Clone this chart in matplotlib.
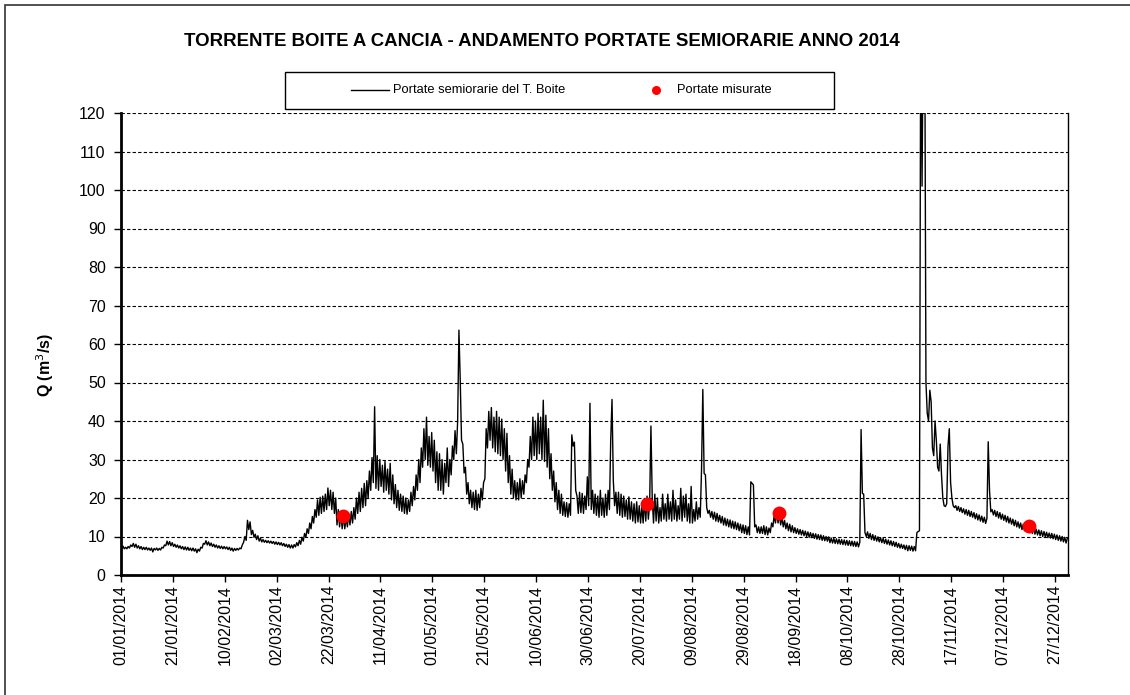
import pandas as pd
import matplotlib
matplotlib.use("Agg")
import matplotlib.pyplot as plt
from matplotlib.patches import Rectangle
from matplotlib.lines import Line2D

plt.rcParams['font.family'] = ['Liberation Sans', 'DejaVu Sans']

title = "TORRENTE BOITE A CANCIA - ANDAMENTO PORTATE SEMIORARIE ANNO 2014"
series_label = "Portate semiorarie del T. Boite"
measured_label = "Portate misurate"
y_label = "Q (m$^3$/s)"

# Discharge of the Boite (m3/s), two readings per day: 06:00 and 18:00
q_morning = [
    # January
    6.5, 6.8, 6.8, 7.0, 7.4, 7.2, 7.0, 6.8, 6.6, 6.6, 6.5, 6.4, 6.0, 6.5, 6.4, 6.5,
    7.0, 7.6, 7.8, 7.6, 7.4, 7.2, 7.0, 6.8, 6.6, 6.5, 6.4, 6.3, 6.2, 5.8, 6.2,
    # February
    7.0, 8.0, 7.8, 7.6, 7.4, 7.2, 7.0, 6.9, 6.8, 6.8, 6.6, 6.4, 6.2, 6.4, 6.5, 6.8,
    8.5, 9.0, 11.8, 10.5, 9.8, 9.2, 8.8, 8.6, 8.5, 8.4, 8.3, 8.2,
    # March
    8.0, 7.9, 7.8, 7.6, 7.4, 7.2, 7.0, 7.0, 7.3, 7.6, 8.0, 8.8, 9.8, 10.8, 12.0, 13.5,
    15.0, 15.5, 16.0, 16.5, 17.0, 18.0, 17.0, 16.0, 13.0, 12.5, 12.0, 12.0, 12.5, 13.0, 13.5,
    # April
    14.5, 16.0, 16.5, 17.5, 18.0, 20.0, 22.0, 24.0, 22.5, 22.0, 23.0, 21.5, 22.0, 21.0, 19.5,
    18.5, 17.5, 16.8, 16.5, 16.0, 15.8, 16.5, 18.0, 19.5, 22.0, 24.0, 28.0, 30.0, 28.5, 28.0,
    # May
    27.0, 24.0, 22.0, 22.0, 21.0, 24.0, 23.0, 26.0, 30.0, 31.5, 63.6, 35.0, 26.5, 21.0, 18.5,
    17.5, 17.0, 16.8, 17.5, 19.5, 25.0, 33.0, 35.0, 33.0, 32.0, 31.5, 31.0, 30.0, 27.0, 24.0, 21.0,
    # June
    20.0, 19.5, 19.5, 20.0, 21.0, 24.0, 28.0, 30.0, 31.0, 30.0, 31.5, 30.0, 29.5, 28.0, 25.0,
    22.0, 19.0, 17.0, 16.0, 15.5, 15.2, 15.0, 15.5, 33.5, 22.0, 16.0, 16.2, 16.0, 17.0, 18.0,
    # July
    17.0, 16.0, 15.5, 15.0, 15.5, 15.0, 15.5, 17.0, 45.6, 18.0, 16.0, 15.5, 15.0, 15.2, 14.5,
    14.5, 14.0, 13.5, 13.8, 13.5, 13.5, 14.0, 14.5, 38.7, 13.5, 14.0, 13.5, 14.0, 14.5, 14.0, 14.5,
    # August
    14.0, 14.5, 14.0, 14.5, 14.0, 15.0, 14.0, 13.5, 13.5, 14.0, 14.5, 15.0, 48.2, 26.0, 16.0,
    15.0, 14.5, 14.0, 13.8, 13.5, 13.0, 12.8, 12.5, 12.2, 12.0, 11.8, 11.5, 11.0, 10.8, 10.5, 10.4,
    # September
    23.8, 12.5, 11.0, 10.8, 10.8, 10.5, 10.4, 11.0, 12.5, 13.5, 13.5, 13.0, 12.5, 12.0, 11.5,
    11.2, 11.0, 10.8, 10.6, 10.4, 10.2, 10.0, 9.8, 9.7, 9.5, 9.3, 9.2, 9.0, 8.9, 8.8,
    # October
    8.4, 8.3, 8.2, 8.1, 8.0, 7.9, 7.8, 7.7, 7.6, 7.5, 7.4, 7.3, 37.8, 21.0, 10.0, 9.5,
    9.2, 9.0, 8.8, 8.6, 8.4, 8.2, 8.0, 7.8, 7.6, 7.4, 7.2, 7.0, 6.9, 6.6, 6.3,
    # November
    6.4, 6.2, 6.3, 11.3, 150.0, 150.0, 50.0, 40.0, 45.0, 31.0, 35.0, 27.0, 26.0, 18.0, 18.5,
    38.0, 20.0, 17.5, 16.8, 16.5, 16.2, 15.8, 15.5, 15.2, 15.0, 14.6, 14.3, 14.0, 13.7, 13.4,
    # December
    34.6, 16.4, 15.6, 15.2, 14.8, 14.5, 14.2, 13.8, 13.5, 13.2, 12.8, 12.5, 12.2, 11.8, 11.5,
    11.2, 11.0, 10.8, 10.6, 10.4, 10.2, 10.0, 9.9, 9.7, 9.6, 9.4, 9.2, 9.0, 8.8, 8.6, 8.3,
]

q_evening = [
    # January
    7.5, 7.2, 7.4, 7.8, 8.2, 8.0, 7.6, 7.4, 7.2, 7.2, 7.0, 7.0, 6.9, 7.0, 6.9, 7.2,
    7.8, 8.8, 8.7, 8.4, 8.0, 7.8, 7.6, 7.4, 7.3, 7.2, 7.0, 7.0, 6.8, 6.7, 7.2,
    # February
    8.2, 8.9, 8.6, 8.3, 8.0, 7.8, 7.6, 7.5, 7.4, 7.3, 7.2, 7.0, 6.9, 6.9, 7.0, 7.8,
    10.0, 14.2, 13.8, 11.6, 10.6, 10.2, 9.6, 9.2, 9.0, 8.9, 8.8, 8.7,
    # March
    8.6, 8.5, 8.4, 8.2, 8.0, 7.9, 7.8, 7.9, 8.4, 9.0, 9.8, 10.8, 12.0, 13.5, 15.2, 17.0,
    19.5, 20.2, 20.5, 21.0, 22.6, 22.0, 21.5, 20.0, 17.0, 16.0, 15.5, 15.0, 15.8, 16.5, 17.5,
    # April
    20.0, 21.5, 22.5, 23.8, 24.5, 27.0, 30.5, 43.7, 31.0, 30.0, 28.5, 29.5, 27.5, 29.0, 26.0,
    23.5, 22.0, 21.0, 20.5, 20.0, 19.5, 21.5, 23.0, 26.0, 30.0, 33.0, 38.0, 41.0, 36.0, 37.0,
    # May
    35.0, 32.0, 31.5, 30.0, 29.0, 33.0, 30.0, 33.5, 37.5, 40.0, 50.6, 34.0, 28.0, 24.0, 22.0,
    21.5, 22.0, 21.0, 22.5, 24.0, 38.0, 42.5, 43.5, 41.0, 42.5, 41.0, 40.5, 38.0, 36.8, 31.0, 27.5,
    # June
    24.5, 24.0, 25.0, 24.5, 26.0, 30.0, 36.0, 41.0, 40.0, 42.0, 41.0, 45.4, 41.5, 38.0, 31.5,
    27.0, 24.0, 22.0, 21.0, 19.0, 18.8, 18.5, 36.4, 34.5, 20.5, 21.5, 21.2, 20.5, 25.5, 44.6,
    # July
    22.0, 21.0, 20.5, 22.0, 20.0, 21.0, 22.0, 35.0, 24.5, 21.5, 21.5, 21.0, 20.5, 19.5, 20.3,
    19.0, 18.5, 19.0, 18.0, 17.8, 19.5, 20.5, 18.5, 20.0, 21.0, 20.0, 17.5, 21.0, 18.5, 21.0, 19.0,
    # August
    22.0, 19.5, 18.0, 22.5, 20.5, 21.0, 18.5, 23.0, 17.0, 19.0, 17.5, 27.3, 26.4, 17.5, 16.8,
    16.5, 16.3, 16.0, 15.5, 15.2, 14.8, 14.5, 14.3, 14.0, 13.8, 13.5, 13.2, 13.0, 12.8, 12.5, 24.2,
    # September
    23.4, 13.0, 12.5, 12.5, 12.8, 12.5, 12.2, 13.5, 15.5, 16.2, 15.8, 15.0, 14.2, 13.5, 13.2,
    12.8, 12.3, 12.0, 11.8, 11.6, 11.4, 11.2, 11.0, 10.8, 10.7, 10.5, 10.4, 10.2, 10.0, 9.9,
    # October
    9.6, 9.5, 9.4, 9.3, 9.2, 9.1, 9.0, 8.9, 8.8, 8.7, 8.6, 8.5, 21.2, 11.0, 11.2, 10.8,
    10.5, 10.2, 9.9, 9.7, 9.5, 9.3, 9.1, 8.9, 8.7, 8.5, 8.2, 8.0, 7.8, 7.7, 7.6,
    # November
    7.5, 7.4, 11.0, 11.5, 101.0, 150.0, 42.0, 48.0, 33.0, 40.0, 28.0, 34.0, 20.0, 17.8, 33.5,
    24.0, 18.0, 18.0, 17.8, 17.5, 17.2, 17.0, 16.8, 16.5, 16.2, 15.9, 15.6, 15.3, 15.0, 14.7,
    # December
    22.0, 17.0, 16.8, 16.5, 16.2, 15.8, 15.5, 15.2, 14.8, 14.5, 14.2, 13.8, 13.5, 13.2, 12.9,
    12.6, 12.4, 12.2, 11.9, 11.7, 11.5, 11.3, 11.1, 10.9, 10.8, 10.6, 10.4, 10.2, 10.0, 9.8, 9.6,
]

# Spot gaugings
measured_dates = ["2014-03-27 14:00", "2014-07-22 16:00", "2014-09-11 19:00", "2014-12-17 00:00"]
measured_q = [15.4, 18.4, 16.2, 12.7]

y_ticks = list(range(0, 121, 10))

# Build the half-day time axis
days = pd.date_range("2014-01-01", periods=len(q_morning), freq="D")
times, flows = [], []
for d, qm, qe in zip(days, q_morning, q_evening):
    times += [d + pd.Timedelta(hours=6), d + pd.Timedelta(hours=18)]
    flows += [qm, qe]

W, H = 1130, 695
fig = plt.figure(figsize=(W / 100, H / 100), dpi=100)
fig.patch.set_facecolor("white")

# outer frame of the sheet
fig.patches.append(Rectangle((5 / W, -0.05), 1.2, 1 - 5 / H + 0.05, transform=fig.transFigure,
                             fill=False, edgecolor="#333333", linewidth=1.2))

left, right, top, bottom = 121, 1068, 113, 575
ax = fig.add_axes([left / W, 1 - bottom / H, (right - left) / W, (bottom - top) / H])

ax.plot(times, flows, color="black", linewidth=1.0, zorder=3)
ax.plot(pd.to_datetime(measured_dates), measured_q, "o", color="red", markersize=10,
        markeredgewidth=0, zorder=4)

ax.set_ylim(0, 120)
ax.set_yticks(y_ticks)
ax.set_xlim(pd.Timestamp("2014-01-01"), pd.Timestamp("2015-01-01"))
tick_dates = pd.date_range("2014-01-01", "2014-12-31", freq="20D")
ax.set_xticks(tick_dates)
ax.set_xticklabels([d.strftime("%d/%m/%Y") for d in tick_dates], rotation=90)

ax.grid(axis="y", color="black", linestyle=(0, (3, 2)), linewidth=0.8, zorder=1)
ax.set_axisbelow(True)

for s in ("left", "bottom"):
    ax.spines[s].set_linewidth(2.0)
    ax.spines[s].set_color("black")
ax.spines["right"].set_linewidth(1.0)
ax.spines["top"].set_visible(False)

ax.tick_params(axis="both", direction="out", length=5, width=1, colors="black")
ax.tick_params(axis="y", pad=6, labelsize=11.5)
ax.tick_params(axis="x", pad=2, labelsize=11.5)

fig.text(45 / W, 1 - 365 / H, y_label, rotation=90, ha="center", va="center",
         fontsize=11.5, fontweight="bold")
fig.text(542 / W, 1 - 42 / H, title, ha="center", va="center", fontsize=13.4, fontweight="bold")

# legend box
fig.patches.append(Rectangle((285 / W, 1 - 109 / H), (834 - 285) / W, (109 - 72) / H,
                             transform=fig.transFigure, fill=False, edgecolor="black", linewidth=1.0))
fig.lines.append(Line2D([351 / W, 389 / W], [1 - 90 / H, 1 - 90 / H], transform=fig.transFigure,
                        color="black", linewidth=1.0))
fig.text(393 / W, 1 - 90 / H, series_label, ha="left", va="center", fontsize=9.3)
fig.lines.append(Line2D([656 / W], [1 - 90 / H], transform=fig.transFigure, marker="o",
                        color="red", markersize=6.5, markeredgewidth=0))
fig.text(677 / W, 1 - 90 / H, measured_label, ha="left", va="center", fontsize=9.3)

fig.savefig("out.png", dpi=100)
